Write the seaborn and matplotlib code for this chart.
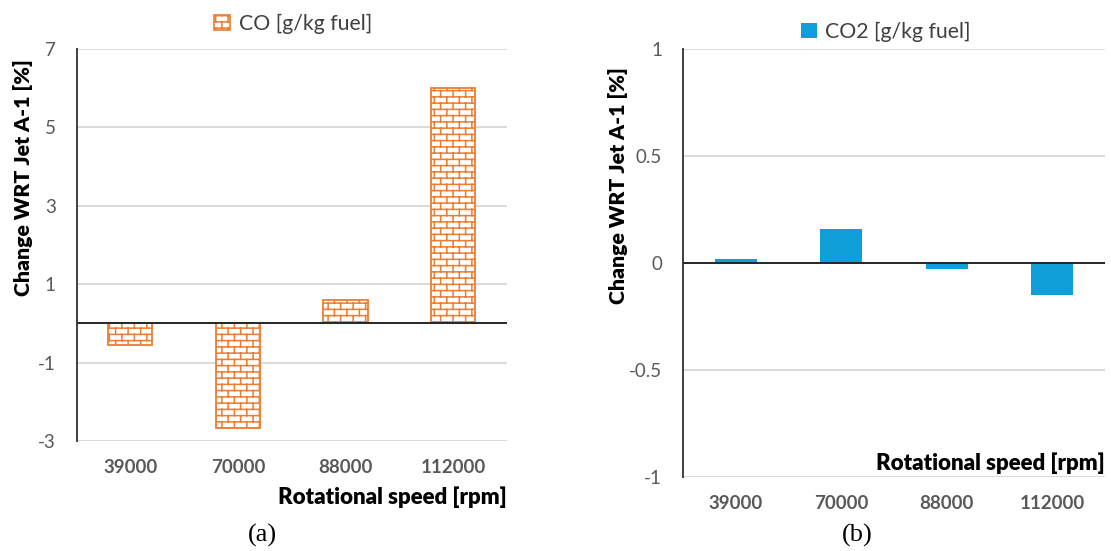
import warnings
warnings.filterwarnings('ignore')
import numpy as np
import pandas as pd
import matplotlib
matplotlib.use('Agg')
import matplotlib.pyplot as plt
import seaborn as sns
from matplotlib import hatch as mhatch
from matplotlib.path import Path
from matplotlib.patches import Patch

# ---------------- data ----------------
speeds = ['39000', '70000', '88000', '112000']
co_change = [-0.55, -2.68, 0.6, 6.0]
co2_change = [0.02, 0.16, -0.03, -0.15]
co_ticks = [-3, -1, 1, 3, 5, 7]
co_tick_labels = ['-3', '-1', '1', '3', '5', '7']
co2_ticks = [-1, -0.5, 0, 0.5, 1]
co2_tick_labels = ['-1', '-0.5', '0', '0.5', '1']
co_legend = 'CO [g/kg fuel]'
co2_legend = 'CO2 [g/kg fuel]'
x_label = 'Rotational speed [rpm]'
y_label = 'Change WRT Jet A-1 [%]'
captions = ['(a)', '(b)']

ORANGE = '#ED7D31'
BLUE = '#0E9FD8'
TICK_COL = '#595959'


# ---------------- brick hatch ----------------
class BrickHatch:
    rows = 16
    cols = 8

    def __init__(self, hatch, density):
        self.segs = []
        if 'B' in hatch:
            r, c = self.rows, self.cols
            for k in range(r):
                y = (k + 0.5) / r
                self.segs.append(((0.0, y), (1.0, y)))
            for k in range(r):
                y0 = (k + 0.5) / r
                y1 = (k + 1.5) / r
                for j in range(c):
                    x = (j + 0.5 * (k % 2) + 0.25) / c
                    if y1 <= 1.0:
                        self.segs.append(((x, y0), (x, y1)))
                    else:
                        self.segs.append(((x, y0), (x, 1.0)))
                        self.segs.append(((x, 0.0), (x, y1 - 1.0)))
        self.num_vertices = 2 * len(self.segs)

    def set_vertices_and_codes(self, vertices, codes):
        v = np.array([p for s in self.segs for p in s], dtype=float)
        vertices[:] = v
        codes[0::2] = Path.MOVETO
        codes[1::2] = Path.LINETO


mhatch._hatch_types.append(BrickHatch)

# ---------------- style ----------------
sns.set_theme(style='white')
plt.rcParams['font.family'] = ['Lato', 'DejaVu Sans']
plt.rcParams['hatch.linewidth'] = 1.1

fig = plt.figure(figsize=(11.11, 5.51), dpi=100)
ax1 = fig.add_axes([76.5 / 1111, 1 - 441 / 551, 430.5 / 1111, 392 / 551])
ax2 = fig.add_axes([683 / 1111, 1 - 477 / 551, 422 / 1111, 428 / 551])

df1 = pd.DataFrame({'speed': speeds, 'value': co_change})
df2 = pd.DataFrame({'speed': speeds, 'value': co2_change})

sns.barplot(data=df1, x='speed', y='value', ax=ax1, color='white', saturation=1,
            edgecolor=ORANGE, linewidth=1.3, hatch='B', width=0.41, errorbar=None,
            zorder=2)
sns.barplot(data=df2, x='speed', y='value', ax=ax2, color=BLUE, saturation=1,
            edgecolor='none', linewidth=0, width=0.40, errorbar=None, zorder=2)


def style_axes(ax, ticks, labels, ylab_xy, xlab_xy, legend_patch, legend_xy):
    ax.set_ylim(ticks[0], ticks[-1])
    ax.set_xlim(-0.5, len(speeds) - 0.5)
    ax.set_yticks(ticks)
    ax.set_yticklabels(labels)
    ax.yaxis.grid(True, color='#D9D9D9', lw=1.4)
    ax.set_axisbelow(True)
    ax.axhline(0, color='#262626', lw=1.4, zorder=3)
    for s in ['top', 'right', 'bottom']:
        ax.spines[s].set_visible(False)
    ax.spines['left'].set_color('#404040')
    ax.spines['left'].set_linewidth(1.4)
    ax.tick_params(axis='both', length=0, labelsize=13.5, labelcolor=TICK_COL)
    ax.tick_params(axis='y', pad=15)
    ax.tick_params(axis='x', pad=13)
    for t in ax.get_xticklabels():
        t.set_fontweight('bold')
    ax.set_ylabel(y_label, fontsize=15.3, fontweight='heavy', color='black')
    ax.yaxis.label.set_va('center')
    ax.yaxis.set_label_coords(*ylab_xy)
    ax.set_xlabel(x_label, fontsize=16, fontweight='heavy', color='black', loc='right')
    ax.xaxis.label.set_va('center')
    ax.xaxis.label.set_ha('right')
    ax.xaxis.set_label_coords(*xlab_xy)
    ax.legend(handles=[legend_patch], loc='center', bbox_to_anchor=legend_xy,
              frameon=False, fontsize=15.3, handlelength=0.75, handleheight=0.75,
              handletextpad=0.4, labelcolor='#404040')


style_axes(ax1, co_ticks, co_tick_labels, (-0.124, 0.671), (1.0, -0.143),
           Patch(facecolor='white', edgecolor=ORANGE, hatch='B', linewidth=1.2, label=co_legend),
           (0.503, 1.064))
style_axes(ax2, co2_ticks, co2_tick_labels, (-0.154, 0.68), (1.0, 0.033),
           Patch(facecolor=BLUE, edgecolor='none', label=co2_legend),
           (0.481, 1.04))

fig.text(262 / 1111, 1 - 535 / 551, captions[0], ha='center', va='center',
         family='Liberation Serif', fontsize=19, color='black')
fig.text(857 / 1111, 1 - 535 / 551, captions[1], ha='center', va='center',
         family='Liberation Serif', fontsize=19, color='black')

fig.savefig('out.png', dpi=100, facecolor='white')
